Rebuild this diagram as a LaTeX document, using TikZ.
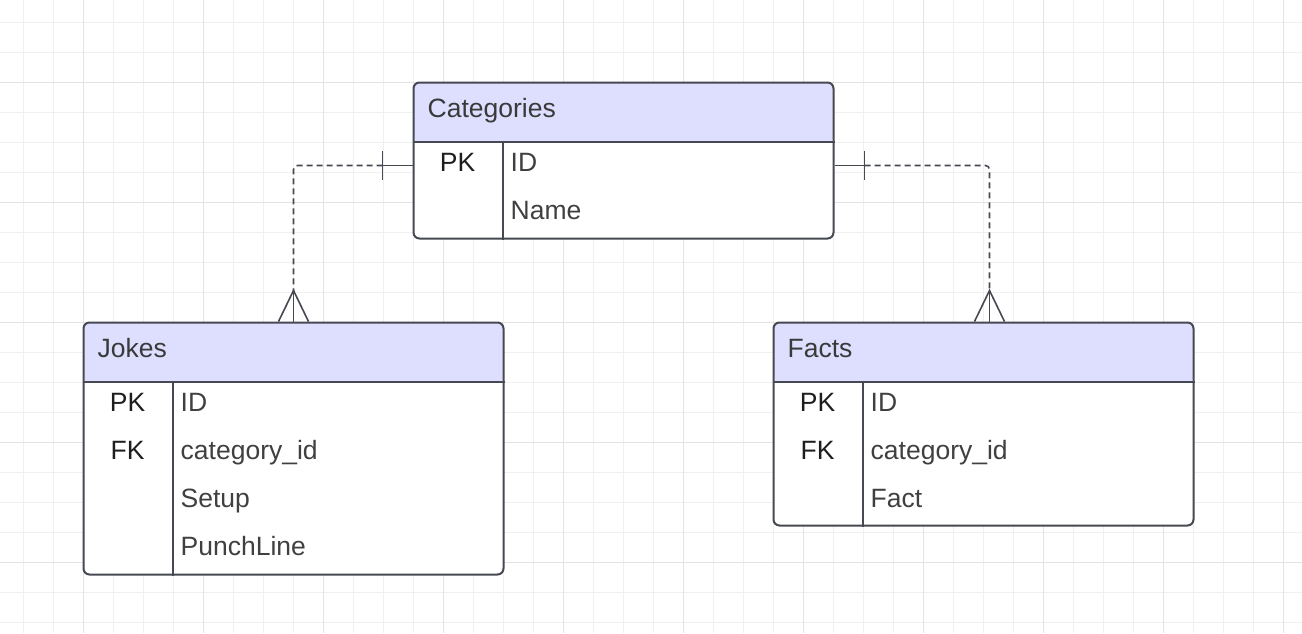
\documentclass[tikz,border=0pt]{standalone}
\usepackage{fontspec}
\setmainfont{Liberation Sans}
\usetikzlibrary{calc}
\definecolor{gridminor}{HTML}{F0F0F0}
\definecolor{gridmajor}{HTML}{E3E3E3}
\definecolor{hdr}{HTML}{DEDEFF}
\definecolor{edge}{HTML}{464952}
\definecolor{fieldtxt}{HTML}{404040}
\definecolor{keytxt}{HTML}{1E1E1E}
\definecolor{hdrtxt}{HTML}{3A3A3A}
\begin{document}
\begin{tikzpicture}[x=1pt,y=-1pt,
  tablebox/.style={draw=edge, fill=white, line width=2pt, rounded corners=6pt, anchor=north west, inner sep=0pt,
    path picture={\fill[hdr] (path picture bounding box.north west) rectangle ([yshift=-60pt]path picture bounding box.north east);}},
  sepline/.style={draw=edge, line width=2pt},
  txt/.style={inner sep=0pt, font=\fontsize{26.5}{30}\selectfont},
  hdrlabel/.style={txt, text=hdrtxt, anchor=base west},
  fieldlabel/.style={txt, text=fieldtxt, anchor=base west},
  keylabel/.style={txt, text=keytxt, anchor=base},
  conn/.style={draw=edge, line width=1.6pt},
  dashconn/.style={conn, dash pattern=on 6pt off 4pt, rounded corners=4pt},
]
\useasboundingbox (0,0) rectangle (1302,633);
\fill[white] (0,0) rectangle (1302,633);
% grid
\foreach \i in {0,...,42} \draw[gridminor, line width=1pt] ({23+30*\i},0) -- ({23+30*\i},633);
\foreach \j in {0,...,20} \draw[gridminor, line width=1pt] (0,{22+30*\j}) -- (1302,{22+30*\j});
\foreach \i in {0,...,10} \draw[gridmajor, line width=1pt] ({83+120*\i},0) -- ({83+120*\i},633);
\foreach \j in {0,...,4} \draw[gridmajor, line width=1pt] (0,{82+120*\j}) -- (1302,{82+120*\j});

% Categories table
\node[tablebox, minimum width=420pt, minimum height=156pt] (cat) at (412.5,81.5) {};
\draw[sepline] ($(cat.north west)+(0,60)$) -- ($(cat.north east)+(0,60)$);
\draw[sepline] ($(cat.north west)+(90,60)$) -- ($(cat.south west)+(90,0)$);
\node[hdrlabel] (catT) at ($(cat.north west)+(15,36)$) {Categories};
\node[keylabel] (catK1) at ($(cat.north west)+(45,89.5)$) {PK};
\node[fieldlabel] (catF1) at ($(cat.north west)+(98,89.5)$) {ID};
\node[fieldlabel] (catF2) at ($(cat.north west)+(98,137.5)$) {Name};

% Jokes table
\node[tablebox, minimum width=420pt, minimum height=252pt] (jokes) at (82.5,321.5) {};
\draw[sepline] ($(jokes.north west)+(0,60)$) -- ($(jokes.north east)+(0,60)$);
\draw[sepline] ($(jokes.north west)+(90,60)$) -- ($(jokes.south west)+(90,0)$);
\node[hdrlabel] (jokT) at ($(jokes.north west)+(15,36)$) {Jokes};
\node[keylabel] (jokK1) at ($(jokes.north west)+(45,89.5)$) {PK};
\node[keylabel] (jokK2) at ($(jokes.north west)+(45,137.5)$) {FK};
\node[fieldlabel] (jokF1) at ($(jokes.north west)+(98,89.5)$) {ID};
\node[fieldlabel] (jokF2) at ($(jokes.north west)+(98,137.5)$) {category\_id};
\node[fieldlabel] (jokF3) at ($(jokes.north west)+(98,185.5)$) {Setup};
\node[fieldlabel] (jokF4) at ($(jokes.north west)+(98,233.5)$) {PunchLine};

% Facts table
\node[tablebox, minimum width=420pt, minimum height=203pt] (facts) at (772.5,321.5) {};
\draw[sepline] ($(facts.north west)+(0,60)$) -- ($(facts.north east)+(0,60)$);
\draw[sepline] ($(facts.north west)+(90,60)$) -- ($(facts.south west)+(90,0)$);
\node[hdrlabel] (facT) at ($(facts.north west)+(15,36)$) {Facts};
\node[keylabel] (facK1) at ($(facts.north west)+(45,89.5)$) {PK};
\node[keylabel] (facK2) at ($(facts.north west)+(45,137.5)$) {FK};
\node[fieldlabel] (facF1) at ($(facts.north west)+(98,89.5)$) {ID};
\node[fieldlabel] (facF2) at ($(facts.north west)+(98,137.5)$) {category\_id};
\node[fieldlabel] (facF3) at ($(facts.north west)+(98,185.5)$) {Fact};

% connector Categories -> Jokes
\coordinate (cL) at ($(cat.north west)+(0,84)$);
\coordinate (cLbar) at ($(cL)+(-30,0)$);
\coordinate (jTop) at (jokes.north);
\coordinate (jApex) at ($(jTop)+(0,-31)$);
\draw[conn] (cL) -- (cLbar);
\draw[conn] ($(cLbar)+(0,-14.5)$) -- ($(cLbar)+(0,14.5)$);
\draw[dashconn] (cLbar) -- (jTop |- cLbar) -- (jApex);
\draw[conn] (jApex) -- (jTop);
\draw[conn] ($(jTop)+(-15,0)$) -- (jApex) -- ($(jTop)+(15,0)$);

% connector Categories -> Facts
\coordinate (cR) at ($(cat.north east)+(0,84)$);
\coordinate (cRbar) at ($(cR)+(30,0)$);
\coordinate (fTop) at ($(facts.north)+(6,0)$);
\coordinate (fApex) at ($(fTop)+(0,-31)$);
\draw[conn] (cR) -- (cRbar);
\draw[conn] ($(cRbar)+(0,-14.5)$) -- ($(cRbar)+(0,14.5)$);
\draw[dashconn] (cRbar) -- (fTop |- cRbar) -- (fApex);
\draw[conn] (fApex) -- (fTop);
\draw[conn] ($(fTop)+(-15,0)$) -- (fApex) -- ($(fTop)+(15,0)$);
\end{tikzpicture}
\end{document}
